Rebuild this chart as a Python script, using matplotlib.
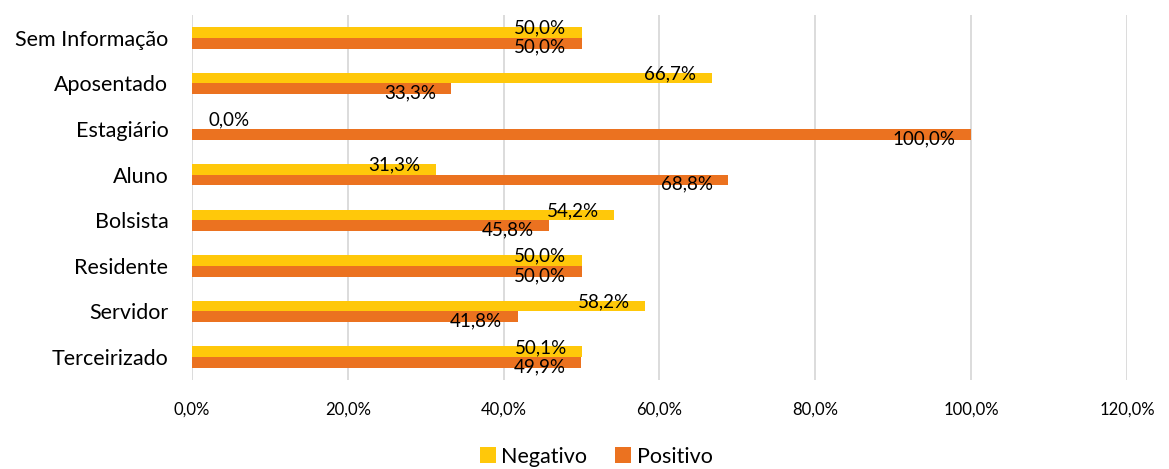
import matplotlib
matplotlib.use("Agg")
import matplotlib.pyplot as plt
import numpy as np

# Dados por vínculo (de baixo para cima no gráfico)
categorias = ["Terceirizado", "Servidor", "Residente", "Bolsista",
              "Aluno", "Estagiário", "Aposentado", "Sem Informação"]
negativo = [50.1, 58.2, 50.0, 54.2, 31.3, 0.0, 66.7, 50.0]
positivo = [49.9, 41.8, 50.0, 45.8, 68.8, 100.0, 33.3, 50.0]

cor_neg = "#FFC80A"
cor_pos = "#EB7220"

plt.rcParams["font.family"] = ["Lato", "DejaVu Sans"]

fig = plt.figure(figsize=(11.69, 4.69), dpi=100)
ax = fig.add_axes([0.1642, 0.19, 0.7998, 0.778])

y = np.arange(len(categorias))
h = 0.235
ax.barh(y + h / 2, np.array(negativo) / 100, height=h, color=cor_neg,
        label="Negativo", zorder=3)
ax.barh(y - h / 2, np.array(positivo) / 100, height=h, color=cor_pos,
        label="Positivo", zorder=3)


def fmt(v):
    return f"{v:.1f}%".replace(".", ",")


def rotulo(v, yy, dy):
    if v == 0:
        ax.annotate(fmt(v), (0, yy), xytext=(12, dy), textcoords="offset points",
                    ha="left", va="center", fontsize=13.5, zorder=4)
    else:
        ax.annotate(fmt(v), (v / 100, yy), xytext=(-11, dy),
                    textcoords="offset points", ha="right", va="center",
                    fontsize=13.5, zorder=4)


for i in range(len(categorias)):
    rotulo(negativo[i], y[i] + h / 2, 3)
    rotulo(positivo[i], y[i] - h / 2, -3)

ax.set_xlim(0, 1.2)
ax.set_ylim(-0.5, len(categorias) - 0.5)
ax.set_xticks(np.arange(0, 1.21, 0.2))
ax.set_xticklabels([fmt(t * 100) for t in np.arange(0, 1.21, 0.2)], fontsize=12)
ax.set_yticks(y)
ax.set_yticklabels(categorias, fontsize=15.5)
ax.tick_params(length=0, pad=16, axis="x")
ax.tick_params(length=0, pad=17, axis="y")
ax.grid(axis="x", color="#D9D9D9", linewidth=1.3, zorder=0)
for s in ax.spines.values():
    s.set_visible(False)

fig.legend(loc="lower center", bbox_to_anchor=(0.51, -0.036), ncol=2,
           frameon=False, fontsize=15.5, handlelength=0.75, handleheight=0.75,
           handletextpad=0.25, columnspacing=1.3)

fig.savefig("out.png", dpi=100)
